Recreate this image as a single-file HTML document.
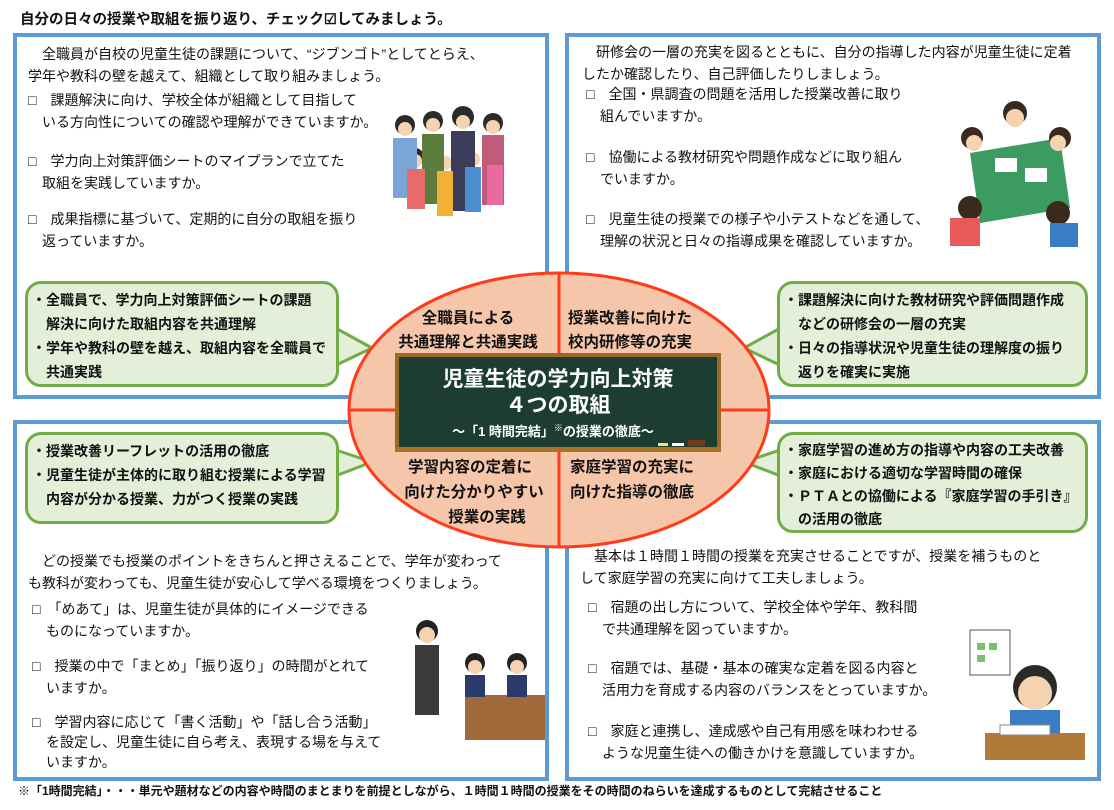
<!DOCTYPE html>
<html><head><meta charset="utf-8"><style>
body{margin:0;width:1114px;height:810px;background:#fff;position:relative;overflow:hidden;font-family:"Liberation Sans","Noto Sans CJK JP",sans-serif;color:#111}
.a{position:absolute;white-space:nowrap}
.box{position:absolute;border:4px solid #5b9bd5;box-sizing:border-box;background:#fff}
.t{font-size:14px;line-height:21.5px}
.co{position:absolute;background:#e4efd9;border:3px solid #70ad47;border-radius:16px;box-sizing:border-box;font-size:14px;font-weight:bold;line-height:24px;padding:4px 0 0 4px}
.b{font-weight:bold}
</style></head><body>
<div class="a b" style="left:20px;top:8px;font-size:14.5px">自分の日々の授業や取組を振り返り、チェック☑してみましょう。</div>

<div class="box" style="left:13px;top:33px;width:536px;height:366px"></div>
<div class="box" style="left:565px;top:33px;width:536px;height:366px"></div>
<div class="box" style="left:13px;top:420px;width:536px;height:361px"></div>
<div class="box" style="left:565px;top:420px;width:536px;height:361px"></div>

<div class="a t" style="left:28px;top:44px">　全職員が自校の児童生徒の課題について、“ジブンゴト”としてとらえ、<br>学年や教科の壁を越えて、組織として取り組みましょう。</div>
<div class="a t" style="left:28px;top:90px">□　課題解決に向け、学校全体が組織として目指して<br>　いる方向性についての確認や理解ができていますか。</div>
<div class="a t" style="left:28px;top:151px">□　学力向上対策評価シートのマイプランで立てた<br>　取組を実践していますか。</div>
<div class="a t" style="left:28px;top:209px">□　成果指標に基づいて、定期的に自分の取組を振り<br>　返っていますか。</div>

<div class="a t" style="left:582px;top:42px">　研修会の一層の充実を図るとともに、自分の指導した内容が児童生徒に定着<br>したか確認したり、自己評価したりしましょう。</div>
<div class="a t" style="left:586px;top:84px">□　全国・県調査の問題を活用した授業改善に取り<br>　組んでいますか。</div>
<div class="a t" style="left:586px;top:147px">□　協働による教材研究や問題作成などに取り組ん<br>　でいますか。</div>
<div class="a t" style="left:586px;top:209px">□　児童生徒の授業での様子や小テストなどを通して、<br>　理解の状況と日々の指導成果を確認していますか。</div>

<div class="a t" style="left:28px;top:551px">　どの授業でも授業のポイントをきちんと押さえることで、学年が変わって<br>も教科が変わっても、児童生徒が安心して学べる環境をつくりましょう。</div>
<div class="a t" style="left:32px;top:599px">□　「めあて」は、児童生徒が具体的にイメージできる<br>　ものになっていますか。</div>
<div class="a t" style="left:32px;top:656px">□　授業の中で「まとめ」「振り返り」の時間がとれて<br>　いますか。</div>
<div class="a t" style="left:32px;top:712px;line-height:20px">□　学習内容に応じて「書く活動」や「話し合う活動」<br>　を設定し、児童生徒に自ら考え、表現する場を与えて<br>　いますか。</div>

<div class="a t" style="left:580px;top:546px">　基本は１時間１時間の授業を充実させることですが、授業を補うものと<br>して家庭学習の充実に向けて工夫しましょう。</div>
<div class="a t" style="left:588px;top:597px">□　宿題の出し方について、学校全体や学年、教科間<br>　で共通理解を図っていますか。</div>
<div class="a t" style="left:588px;top:658px">□　宿題では、基礎・基本の確実な定着を図る内容と<br>　活用力を育成する内容のバランスをとっていますか。</div>
<div class="a t" style="left:588px;top:721px">□　家庭と連携し、達成感や自己有用感を味わわせる<br>　ような児童生徒への働きかけを意識していますか。</div>

<svg class="a" style="left:385px;top:105px" width="150" height="140">
<g fill="#2b2b2b"><circle cx="20" cy="20" r="10"/><circle cx="48" cy="16" r="10"/><circle cx="78" cy="12" r="11"/><circle cx="108" cy="18" r="10"/><circle cx="30" cy="52" r="9"/><circle cx="110" cy="48" r="9"/></g>
<g fill="#f6d3b0"><circle cx="20" cy="24" r="7"/><circle cx="48" cy="20" r="7"/><circle cx="78" cy="17" r="7"/><circle cx="108" cy="22" r="7"/><circle cx="30" cy="56" r="7"/><circle cx="60" cy="58" r="7"/><circle cx="88" cy="54" r="7"/><circle cx="110" cy="52" r="7"/></g>
<rect x="8" y="33" width="24" height="60" fill="#7aa5d6"/><rect x="37" y="29" width="22" height="70" fill="#5b7c3a"/><rect x="66" y="26" width="24" height="80" fill="#3b3b5a"/><rect x="97" y="30" width="22" height="70" fill="#c25b7a"/>
<rect x="22" y="64" width="18" height="40" fill="#e96a6a"/><rect x="52" y="66" width="16" height="45" fill="#f2b134"/><rect x="80" y="62" width="16" height="45" fill="#4c8fd1"/><rect x="102" y="60" width="16" height="40" fill="#e86aa0"/>
</svg>
<svg class="a" style="left:950px;top:98px" width="130" height="150">
<polygon points="20,55 110,40 120,110 30,125" fill="#3c9b60"/>
<rect x="45" y="60" width="22" height="14" fill="#fff"/><rect x="75" y="70" width="22" height="14" fill="#fff"/>
<g fill="#3a2a1e"><circle cx="65" cy="15" r="12"/><circle cx="22" cy="40" r="11"/><circle cx="110" cy="40" r="11"/><circle cx="20" cy="110" r="12"/><circle cx="108" cy="115" r="12"/></g>
<g fill="#f6d3b0"><circle cx="65" cy="20" r="9"/><circle cx="24" cy="45" r="8"/><circle cx="108" cy="45" r="8"/></g>
<rect x="0" y="120" width="30" height="28" fill="#e85a5a"/><rect x="100" y="125" width="28" height="24" fill="#3a7dc7"/>
</svg>
<svg class="a" style="left:405px;top:615px" width="140" height="125">
<rect x="60" y="80" width="80" height="45" fill="#a06a3a"/>
<g fill="#222"><circle cx="22" cy="16" r="11"/><circle cx="70" cy="48" r="10"/><circle cx="112" cy="48" r="10"/></g>
<g fill="#f6d3b0"><circle cx="22" cy="20" r="8"/><circle cx="70" cy="52" r="7"/><circle cx="112" cy="52" r="7"/></g>
<rect x="10" y="30" width="24" height="70" fill="#3b3b3b"/><rect x="60" y="60" width="20" height="22" fill="#2b3b6b"/><rect x="102" y="60" width="20" height="22" fill="#2b3b6b"/>
</svg>
<svg class="a" style="left:965px;top:625px" width="120" height="135">
<rect x="5" y="5" width="40" height="45" fill="#fff" stroke="#555"/><g fill="#7ac06a"><rect x="12" y="18" width="8" height="7"/><rect x="24" y="18" width="8" height="7"/><rect x="12" y="30" width="8" height="7"/></g>
<circle cx="70" cy="62" r="22" fill="#2a2a2a"/><circle cx="70" cy="68" r="17" fill="#f6d3b0"/>
<rect x="45" y="85" width="50" height="28" fill="#3a7dc7"/>
<rect x="20" y="108" width="100" height="27" fill="#b07a3a"/><rect x="35" y="100" width="50" height="10" fill="#fff" stroke="#888"/>
</svg>

<svg class="a" style="left:0;top:0" width="1114" height="810">
<g fill="#e4efd9" stroke="#70ad47" stroke-width="3" stroke-linejoin="round">
<polygon points="330,325 372,348 330,368"/>
<polygon points="786,325 744,348 786,368"/>
<polygon points="330,448 372,462 330,478"/>
<polygon points="786,448 744,462 786,478"/>
</g>
</svg>
<div class="co" style="left:25px;top:281px;width:314px;height:106px">・全職員で、学力向上対策評価シートの課題<br>　解決に向けた取組内容を共通理解<br>・学年や教科の壁を越え、取組内容を全職員で<br>　共通実践</div>
<div class="co" style="left:777px;top:281px;width:311px;height:106px">・課題解決に向けた教材研究や評価問題作成<br>　などの研修会の一層の充実<br>・日々の指導状況や児童生徒の理解度の振り<br>　返りを確実に実施</div>
<div class="co" style="left:25px;top:432px;width:314px;height:92px">・授業改善リーフレットの活用の徹底<br>・児童生徒が主体的に取り組む授業による学習<br>　内容が分かる授業、力がつく授業の実践</div>
<div class="co" style="left:777px;top:432px;width:311px;height:101px;line-height:23px">・家庭学習の進め方の指導や内容の工夫改善<br>・家庭における適切な学習時間の確保<br>・ＰＴＡとの協働による『家庭学習の手引き』<br>　の活用の徹底</div>

<svg class="a" style="left:0;top:0" width="1114" height="810">
<ellipse cx="559" cy="410" rx="210" ry="137" fill="#f6c6aa" stroke="#ff3b1a" stroke-width="3"/>
<line x1="559" y1="273" x2="559" y2="547" stroke="#ff3b1a" stroke-width="3"/>
<line x1="349" y1="410" x2="769" y2="410" stroke="#ff3b1a" stroke-width="3"/>
<rect x="397" y="355" width="322" height="95" fill="#1d3d33" stroke="#9a6a25" stroke-width="4"/>
<rect x="395" y="447" width="326" height="5" fill="#a87228"/>
<rect x="658" y="443" width="10" height="3" fill="#ffe26a"/><rect x="672" y="443" width="12" height="3" fill="#fff"/><rect x="688" y="440" width="17" height="6" fill="#7a3a1a"/>
<g font-family="Liberation Sans, Noto Sans CJK JP, sans-serif" font-weight="bold" text-anchor="middle">
<text x="558" y="386" font-size="21" fill="#fff">児童生徒の学力向上対策</text>
<text x="558" y="412" font-size="21" fill="#fff">４つの取組</text>
<text x="553" y="436" font-size="13" fill="#fff">～「1 時間完結」<tspan font-size="9" dy="-5">※</tspan><tspan dy="5">の授業の徹底～</tspan></text>
<g font-size="15.5" fill="#111">
<text x="468" y="323">全職員による</text>
<text x="468" y="347">共通理解と共通実践</text>
<text x="630" y="323">授業改善に向けた</text>
<text x="630" y="347">校内研修等の充実</text>
<text x="470" y="472">学習内容の定着に</text>
<text x="474" y="497">向けた分かりやすい</text>
<text x="487" y="522">授業の実践</text>
<text x="632" y="472">家庭学習の充実に</text>
<text x="632" y="497">向けた指導の徹底</text>
</g></g>
</svg>

<div class="a b" style="left:18px;top:782px;font-size:12px">※「1時間完結」・・・単元や題材などの内容や時間のまとまりを前提としながら、１時間１時間の授業をその時間のねらいを達成するものとして完結させること</div>
</body></html>
